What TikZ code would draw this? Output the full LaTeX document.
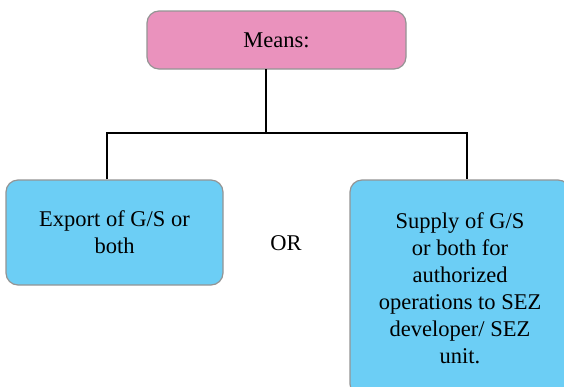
\documentclass[tikz,border=0pt]{standalone}
\usepackage{fontspec}
\setmainfont{Liberation Serif}
\begin{document}
\begin{tikzpicture}[x=1pt,y=-1pt,
  box/.style={draw=black!42, line width=1.2pt, rounded corners=12pt, align=center, inner sep=0pt},
  pinkbox/.style={box, fill=meanspink},
  bluebox/.style={box, fill=optblue},
  link/.style={draw=black, line width=1.1pt},
  lbl/.style={font=\fontsize{22.5}{27}\selectfont}]
\definecolor{meanspink}{RGB}{234,146,189}
\definecolor{optblue}{RGB}{108,206,245}
\useasboundingbox (0,0) rectangle (564,386);
\clip (0,0) rectangle (564,386);
\node[pinkbox, minimum width=259pt, minimum height=58pt, lbl] (means) at (276.5,40) {Means:};
\node[bluebox, minimum width=217pt, minimum height=105pt, lbl] (export) at (114.5,232.5) {Export of G/S or\\both};
\node[bluebox, minimum width=220pt, minimum height=216pt, lbl] (supply) at (460,288) {Supply of G/S\\or both for\\authorized\\operations to SEZ\\developer/ SEZ\\unit.};
\node[lbl] (or) at (286,243) {OR};
\coordinate (split) at (266,133);
\draw[link] (266,69) -- (split);
\draw[link] (export.north -| 107,0) |- (split) -| (supply.north -| 467,0);
\end{tikzpicture}
\end{document}
